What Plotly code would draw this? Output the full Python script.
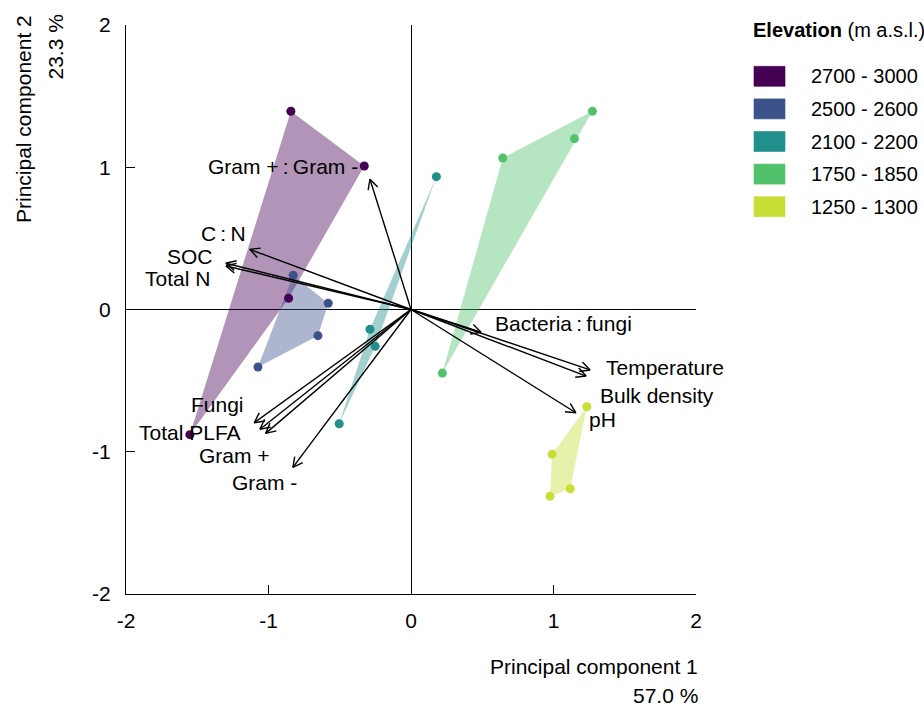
import math
import plotly.graph_objects as go

# ---------------- data ----------------
groups = ["2700 - 3000", "2500 - 2600", "2100 - 2200", "1750 - 1850", "1250 - 1300"]
group_colors = ["#440154", "#3b528b", "#21908c", "#52c16b", "#c8de36"]

pc1_scores = [
    [-0.843, -0.328, -0.859, -1.552],
    [-0.827, -0.581, -0.653, -1.074],
    [0.178, -0.288, -0.251, -0.504],
    [0.644, 1.273, 1.147, 0.220],
    [1.234, 0.990, 1.117, 0.976],
]
pc2_scores = [
    [1.394, 1.009, 0.079, -0.880],
    [0.241, 0.044, -0.184, -0.404],
    [0.934, -0.139, -0.259, -0.803],
    [1.065, 1.394, 1.201, -0.447],
    [-0.684, -1.018, -1.260, -1.312],
]

variables = ["Gram +\u2009:\u2009Gram -", "C\u2009:\u2009N", "SOC", "Total N",
             "Bacteria\u2009:\u2009fungi", "Temperature", "Bulk density", "pH",
             "Fungi", "Total PLFA", "Gram +", "Gram -"]
loading_pc1 = [-0.288, -1.131, -1.299, -1.299, 0.492, 1.257, 1.229, 1.157,
               -1.100, -1.060, -1.020, -0.829]
loading_pc2 = [0.916, 0.423, 0.325, 0.306, -0.160, -0.425, -0.468, -0.726,
               -0.796, -0.842, -0.871, -1.110]

tick_values = [-2, -1, 0, 1, 2]
tick_labels = ["-2", "-1", "0", "1", "2"]

# label offsets (pixels) relative to arrow tips
label_dx = [-87, -26, -36, -48, 82, 75, 71, 27, -37, -70, -31, -28]
label_dy = [13, 16, 7, -13, 9, 2, -19, -7, 18, -3, -22, -15]

# ---------------- layout geometry ----------------
W, H = 924, 707
# target plot box on screen: x 126..696, y 25..594
ML, MT = 126, 25
PW, PH = 570, 569
MR = W - ML - PW
MB = H - MT - PH
XR = (-2, 2)
YR = (-2, 2)
sx = PW / (XR[1] - XR[0])
sy = PH / (YR[1] - YR[0])

FONT = "Liberation Sans, Arial, sans-serif"


def xp(px):
    return (px - ML) / PW


def yp(py):
    return (MT + PH - py) / PH


def hull(xs, ys):
    pts = sorted(set(zip(xs, ys)))
    if len(pts) < 3:
        return pts

    def cross(o, a, b):
        return (a[0] - o[0]) * (b[1] - o[1]) - (a[1] - o[1]) * (b[0] - o[0])

    lower, upper = [], []
    for p in pts:
        while len(lower) >= 2 and cross(lower[-2], lower[-1], p) <= 0:
            lower.pop()
        lower.append(p)
    for p in reversed(pts):
        while len(upper) >= 2 and cross(upper[-2], upper[-1], p) <= 0:
            upper.pop()
        upper.append(p)
    return lower[:-1] + upper[:-1]


def rgba(hexc, a):
    h = hexc.lstrip("#")
    r, g, b = int(h[0:2], 16), int(h[2:4], 16), int(h[4:6], 16)
    return f"rgba({r},{g},{b},{a})"


fig = go.Figure()

# hulls
for g, col, xs, ys in zip(groups, group_colors, pc1_scores, pc2_scores):
    hp = hull(xs, ys)
    hx = [p[0] for p in hp] + [hp[0][0]]
    hy = [p[1] for p in hp] + [hp[0][1]]
    fig.add_trace(go.Scatter(x=hx, y=hy, mode="lines", fill="toself",
                             fillcolor=rgba(col, 0.42), line=dict(width=0),
                             hoverinfo="skip", showlegend=False))

# points
for g, col, xs, ys in zip(groups, group_colors, pc1_scores, pc2_scores):
    fig.add_trace(go.Scatter(x=xs, y=ys, mode="markers", name=g,
                             marker=dict(color=col, size=9, line=dict(width=0)),
                             showlegend=False))

# arrows
ax_, ay_ = [], []
head_len = 11.0
head_ang = math.radians(27)
for vx, vy in zip(loading_pc1, loading_pc2):
    ax_ += [0, vx, None]
    ay_ += [0, vy, None]
    dxp, dyp = vx * sx, vy * sy
    ang = math.atan2(dyp, dxp)
    for s in (1, -1):
        a = ang + math.pi + s * head_ang
        hx = vx + head_len * math.cos(a) / sx
        hy = vy + head_len * math.sin(a) / sy
        ax_ += [vx, hx, None]
        ay_ += [vy, hy, None]
fig.add_trace(go.Scatter(x=ax_, y=ay_, mode="lines",
                         line=dict(color="black", width=1.4),
                         hoverinfo="skip", showlegend=False))

annotations = []
for name, vx, vy, dx, dy in zip(variables, loading_pc1, loading_pc2, label_dx, label_dy):
    annotations.append(dict(x=vx, y=vy, xref="x", yref="y", text=name,
                            showarrow=False, xshift=dx, yshift=dy,
                            xanchor="center", yanchor="middle",
                            font=dict(family=FONT, size=21, color="black")))

# axis titles
annotations.append(dict(x=xp(700), y=yp(666), xref="paper", yref="paper",
                        text="Principal component 1", showarrow=False,
                        xanchor="right", yanchor="middle",
                        font=dict(family=FONT, size=21, color="black")))
annotations.append(dict(x=xp(700), y=yp(695), xref="paper", yref="paper",
                        text="57.0 %", showarrow=False,
                        xanchor="right", yanchor="middle",
                        font=dict(family=FONT, size=21, color="black")))
annotations.append(dict(x=xp(24), y=yp(13), xref="paper", yref="paper",
                        text="Principal component 2", showarrow=False, textangle=-90,
                        xanchor="center", yanchor="top",
                        font=dict(family=FONT, size=21, color="black")))
annotations.append(dict(x=xp(55), y=yp(13), xref="paper", yref="paper",
                        text="23.3 %", showarrow=False, textangle=-90,
                        xanchor="center", yanchor="top",
                        font=dict(family=FONT, size=21, color="black")))

# legend (manual)
shapes = []
annotations.append(dict(x=xp(751), y=yp(30), xref="paper", yref="paper",
                        text="<b>Elevation</b> (m a.s.l.)", showarrow=False,
                        xanchor="left", yanchor="middle",
                        font=dict(family=FONT, size=20, color="black")))
row0, rowstep = 76.3, 32.6
for i, (g, col) in enumerate(zip(groups, group_colors)):
    cy = row0 + i * rowstep
    shapes.append(dict(type="rect", xref="paper", yref="paper",
                       x0=xp(754), x1=xp(785), y0=yp(cy + 10), y1=yp(cy - 10),
                       fillcolor=col, line=dict(color=rgba(col, 0.6), width=1)))
    annotations.append(dict(x=xp(809), y=yp(cy), xref="paper", yref="paper",
                            text=g, showarrow=False, xanchor="left", yanchor="middle",
                            font=dict(family=FONT, size=20, color="black")))

axis_common = dict(range=list(XR), tickvals=tick_values, ticktext=tick_labels,
                   ticks="inside", ticklen=9, tickwidth=1, tickcolor="black",
                   showline=True, linecolor="black", linewidth=1, mirror=False,
                   showgrid=False, zeroline=True, zerolinecolor="black",
                   zerolinewidth=1,
                   tickfont=dict(family=FONT, size=21, color="black"))

fig.update_layout(
    width=W, height=H, autosize=False,
    margin=dict(l=ML, r=MR, t=MT, b=MB, pad=0),
    paper_bgcolor="white", plot_bgcolor="white",
    xaxis=dict(**axis_common, ticklabelstandoff=8),
    yaxis=dict(**{**axis_common, "range": list(YR)}, ticklabelstandoff=10),
    annotations=annotations, shapes=shapes,
    showlegend=False,
)

fig.write_html(
    "out.html",
    config={"displayModeBar": False},
    post_script="document.body.style.margin='0';document.body.style.overflow='hidden';",
)
